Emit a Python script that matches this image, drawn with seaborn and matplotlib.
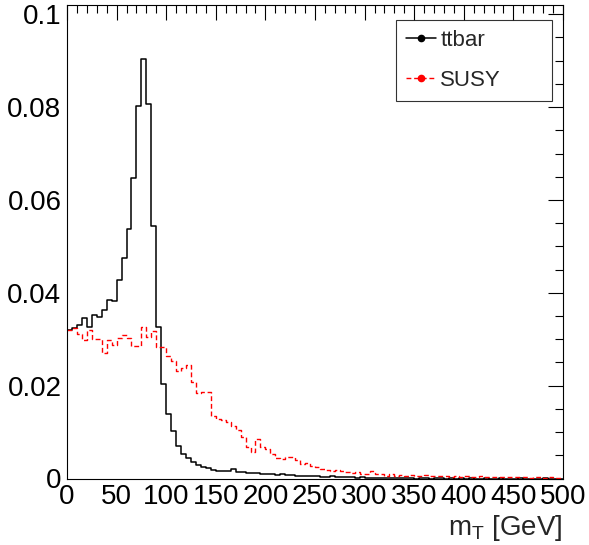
import numpy as np
import pandas as pd
import matplotlib
matplotlib.use("Agg")
import matplotlib.pyplot as plt
from matplotlib.lines import Line2D
from matplotlib.ticker import MultipleLocator
import seaborn as sns

# ---------------- data (5 GeV bins, 0-500 GeV) ----------------
bin_width = 5
x_min, x_max = 0, 500

ttbar = [
    0.0319, 0.0324, 0.0331, 0.0346, 0.0326, 0.0353, 0.0348, 0.0362, 0.0384, 0.0382,
    0.0427, 0.0476, 0.0538, 0.0648, 0.0802, 0.0904, 0.0807, 0.0544, 0.0326, 0.0204,
    0.0140, 0.0102, 0.0071, 0.0052, 0.0044, 0.0036, 0.0030, 0.0024, 0.0022, 0.0019,
    0.0017, 0.0017, 0.0016, 0.0021, 0.0014, 0.0014, 0.0012, 0.0011, 0.0011, 0.0010,
    0.0010, 0.0009, 0.0008, 0.0009, 0.0008, 0.0007, 0.0006, 0.0006, 0.0006, 0.0005,
    0.0005, 0.0004, 0.0004, 0.0005, 0.0003, 0.0004, 0.0003, 0.0003, 0.0002, 0.0003,
    0.0002, 0.0002, 0.0002, 0.0001, 0.0002, 0.0001, 0.0001, 0.0002, 0.0001, 0.0001,
    0.0000, 0.0001, 0.0001, 0.0000, 0.0001, 0.0001, 0.0000, 0.0001, 0.0000, 0.0001,
    0.0000, 0.0001, 0.0000, 0.0000, 0.0001, 0.0000, 0.0000, 0.0001, 0.0000, 0.0000,
    0.0000, 0.0001, 0.0000, 0.0000, 0.0000, 0.0000, 0.0001, 0.0000, 0.0000, 0.0000,
]

susy = [
    0.0319, 0.0325, 0.0312, 0.0298, 0.0320, 0.0301, 0.0301, 0.0270, 0.0298, 0.0287,
    0.0302, 0.0309, 0.0303, 0.0285, 0.0285, 0.0326, 0.0305, 0.0317, 0.0283, 0.0283,
    0.0264, 0.0254, 0.0231, 0.0238, 0.0244, 0.0208, 0.0184, 0.0186, 0.0186, 0.0134,
    0.0129, 0.0125, 0.0121, 0.0114, 0.0105, 0.0089, 0.0068, 0.0058, 0.0086, 0.0068,
    0.0064, 0.0053, 0.0044, 0.0042, 0.0046, 0.0046, 0.0040, 0.0032, 0.0033, 0.0028,
    0.0024, 0.0021, 0.0019, 0.0017, 0.0019, 0.0016, 0.0014, 0.0012, 0.0014, 0.0010,
    0.0010, 0.0017, 0.0009, 0.0010, 0.0006, 0.0009, 0.0006, 0.0007, 0.0006, 0.0008,
    0.0006, 0.0005, 0.0007, 0.0006, 0.0005, 0.0006, 0.0005, 0.0004, 0.0006, 0.0004,
    0.0005, 0.0004, 0.0004, 0.0005, 0.0003, 0.0004, 0.0004, 0.0003, 0.0004, 0.0003,
    0.0003, 0.0004, 0.0003, 0.0002, 0.0003, 0.0003, 0.0002, 0.0003, 0.0002, 0.0002,
]

series_names = ["ttbar", "SUSY"]
x_label = "m$_{T}$ [GeV]"

# ---------------- build table ----------------
edges = np.arange(x_min, x_max + bin_width, bin_width)
centers = edges[:-1] + bin_width / 2
df = pd.DataFrame({
    "mT": np.concatenate([centers, centers]),
    "w": np.concatenate([ttbar, susy]),
    "sample": [series_names[0]] * len(ttbar) + [series_names[1]] * len(susy),
})

# ---------------- style ----------------
sns.set_style("white")
plt.rcParams["font.family"] = ["Liberation Sans", "DejaVu Sans"]
plt.rcParams["mathtext.default"] = "regular"

fig = plt.figure(figsize=(5.89, 5.45), dpi=100)
ax = fig.add_axes([67 / 589, 1 - 478.5 / 545, 496 / 589, 473.5 / 545])

sns.histplot(data=df[df["sample"] == "ttbar"], x="mT", weights="w",
             binwidth=bin_width, binrange=(x_min, x_max),
             element="step", fill=False, color="black", linewidth=1.1, ax=ax)
sns.histplot(data=df[df["sample"] == "SUSY"], x="mT", weights="w",
             binwidth=bin_width, binrange=(x_min, x_max),
             element="step", fill=False, color="#ff0000", linewidth=1.0,
             linestyle=(0, (3.5, 2)), ax=ax)

ax.set_xlim(x_min, x_max)
ax.set_ylim(0, 0.102)
ax.set_ylabel("")
ax.set_xlabel(x_label, fontsize=20, loc="right")
ax.xaxis.set_label_coords(1.0, -0.072)

ax.xaxis.set_major_locator(MultipleLocator(50))
ax.xaxis.set_minor_locator(MultipleLocator(10))
ax.yaxis.set_major_locator(MultipleLocator(0.02))
ax.yaxis.set_minor_locator(MultipleLocator(0.005))
ax.set_yticks([0, 0.02, 0.04, 0.06, 0.08, 0.1])
ax.set_yticklabels(["0", "0.02", "0.04", "0.06", "0.08", "0.1"])

ax.tick_params(which="both", direction="in", top=True, right=True,
               colors="black", width=0.8, labelsize=20)
ax.tick_params(which="major", length=11, pad=4)
ax.tick_params(which="minor", length=5.5)
for s in ax.spines.values():
    s.set_visible(True)
    s.set_color("black")
    s.set_linewidth(0.8)

handles = [
    Line2D([], [], color="black", lw=1.1, marker="o", markersize=4.5),
    Line2D([], [], color="#ff0000", lw=1.0, linestyle=(0, (3.5, 2)),
           marker="o", markersize=4.5),
]
leg = ax.legend(handles, series_names, loc="upper left",
                bbox_to_anchor=(0.663, 0.968, 0.315, 0.0), mode="expand",
                fontsize=16, frameon=True, fancybox=False, shadow=False,
                borderpad=0.45, labelspacing=0.85, handlelength=1.35,
                handletextpad=0.2, borderaxespad=0.0)
leg.get_frame().set_edgecolor("black")
leg.get_frame().set_linewidth(0.8)

fig.savefig("out.png", dpi=100, facecolor="white")
